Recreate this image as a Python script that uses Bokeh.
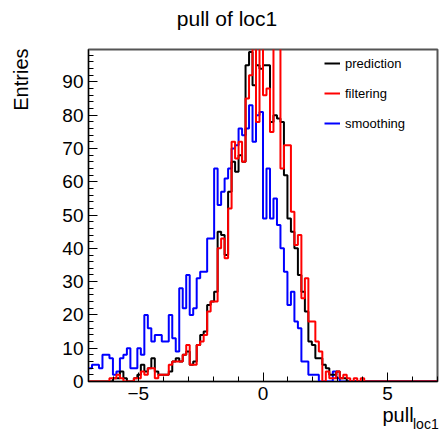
import numpy as np
from bokeh.plotting import figure
from bokeh.models import (Range1d, SingleIntervalTicker, Legend, LegendItem, Label,
                          CustomJSTickFormatter)
from bokeh.embed import file_html
from bokeh.resources import INLINE

# ---------------- data (100 bins from -7 to 7) ----------------
x_min, x_max, n_bins = -7.0, 7.0, 100

prediction = [0, 0, 0, 0, 0, 0, 0, 1, 1, 3,
              1, 0, 0, 1, 2, 5, 3, 4, 7, 3,
              2, 2, 2, 3, 6, 7, 6, 8, 9, 5,
              6, 11, 14, 15, 23, 24, 27, 45, 44, 38,
              57, 66, 63, 68, 66, 95, 99, 89, 95, 94,
              95, 95, 78, 80, 79, 78, 62, 49, 45, 40,
              32, 27, 21, 12, 11, 7, 7, 5, 4, 2,
              2, 3, 1, 1, 0, 0, 0, 0, 0, 0,
              0, 0, 0, 0, 0, 0, 0, 0, 0, 0,
              0, 0, 0, 0, 0, 0, 0, 0, 0, 0]

filtering = [0, 0, 0, 0, 0, 0, 1, 1, 2, 1,
             0, 0, 0, 1, 1, 3, 2, 4, 4, 1,
             2, 2, 2, 5, 6, 6, 6, 8, 11, 5,
             5, 11, 12, 14, 21, 24, 24, 40, 43, 37,
             52, 72, 67, 72, 66, 85, 92, 103, 78, 103,
             86, 88, 75, 103, 103, 64, 71, 71, 51, 41,
             44, 25, 31, 18, 18, 12, 9, 0, 3, 1,
             1, 3, 1, 2, 1, 0, 1, 0, 1, 0,
             0, 0, 0, 0, 0, 0, 0, 0, 0, 0,
             0, 0, 0, 0, 0, 0, 0, 0, 0, 0]

smoothing = [4, 5, 5, 4, 8, 8, 7, 2, 3, 7,
             8, 10, 4, 4, 10, 8, 20, 16, 12, 14,
             14, 12, 12, 20, 13, 9, 28, 22, 32, 20,
             22, 31, 33, 33, 43, 43, 64, 53, 57, 61,
             64, 70, 71, 76, 74, 76, 83, 72, 80, 81,
             49, 64, 49, 55, 47, 40, 33, 23, 27, 18,
             16, 6, 6, 2, 2, 2, 0, 0, 0, 0,
             3, 1, 0, 0, 0, 0, 0, 0, 0, 0,
             0, 0, 0, 0, 0, 0, 0, 0, 0, 0,
             0, 0, 0, 0, 0, 0, 0, 0, 0, 0]

series_names = ["prediction", "filtering", "smoothing"]
series_colors = ["#000000", "#ff0000", "#0000ff"]

y_max = 99.75

edges = list(np.linspace(x_min, x_max, n_bins + 1))

FONT = "Liberation Sans"

p = figure(width=440, height=433, output_backend="svg", toolbar_location=None,
           x_range=Range1d(x_min, x_max), y_range=Range1d(0, y_max),
           min_border_left=88, min_border_right=3, min_border_top=49,
           min_border_bottom=52, background_fill_color="white",
           border_fill_color="white")
p.grid.visible = False
p.outline_line_color = "#555555"
p.outline_line_width = 2

# axes
p.xaxis.ticker = SingleIntervalTicker(interval=5, num_minor_ticks=5)
p.yaxis.ticker = SingleIntervalTicker(interval=10, num_minor_ticks=5)
p.xaxis.formatter = CustomJSTickFormatter(
    code="return tick < 0 ? '\u2212' + Math.abs(tick) : tick.toString();")
for ax in (p.xaxis, p.yaxis):
    ax.major_tick_in = 9
    ax.major_tick_out = 0
    ax.minor_tick_in = 5
    ax.minor_tick_out = 0
    ax.axis_line_color = "black"
    ax.major_tick_line_color = "black"
    ax.minor_tick_line_color = "black"
    ax.major_label_text_font = FONT
    ax.major_label_text_font_size = "19px"
    ax.major_label_text_color = "black"
p.xaxis.major_label_standoff = 5
p.yaxis.major_label_standoff = 5

# histograms
data = {"prediction": prediction, "filtering": filtering, "smoothing": smoothing}
renderers = {}
for name in ["smoothing", "prediction", "filtering"]:
    col = series_colors[series_names.index(name)]
    vals = data[name]
    r = p.step(x=edges, y=list(vals) + [vals[-1]], mode="after",
               line_color=col, line_width=2)
    m = p.scatter(x=[], y=[], marker="square", size=6, color=col)
    renderers[name] = [r, m]

items = [LegendItem(label=n, renderers=renderers[n]) for n in series_names]
legend = Legend(items=items, location=(236, 248), orientation="vertical",
                border_line_color=None, background_fill_alpha=0,
                padding=0, margin=0, spacing=10, label_height=20,
                glyph_height=20, glyph_width=16, label_standoff=5,
                label_text_font=FONT, label_text_font_size="13px",
                label_text_color="black")
p.add_layout(legend)

# texts, placed in side panels (so they are not clipped by the frame)
p.add_layout(Label(x=138.5, y=31, x_units="screen", y_units="screen",
                   text="pull of loc1", text_font=FONT, text_font_size="21px",
                   text_color="black",
                   text_align="center", text_baseline="alphabetic"), "above")
p.add_layout(Label(x=324.5, y=-397, x_units="screen", y_units="screen",
                   text="loc1", text_font=FONT, text_font_size="14px",
                   text_color="black",
                   text_align="left", text_baseline="alphabetic"), "above")
p.add_layout(Label(x=-16.7, y=333, x_units="screen", y_units="screen",
                   text="Entries", text_font=FONT, text_font_size="20px",
                   text_color="black", angle=np.pi / 2,
                   text_align="right", text_baseline="alphabetic"), "left")
p.add_layout(Label(x=294, y=10, x_units="screen", y_units="screen",
                   text="pull", text_font=FONT, text_font_size="20px",
                   text_color="black",
                   text_align="left", text_baseline="alphabetic"), "below")

open("out.html", "w").write(file_html(p, INLINE))
